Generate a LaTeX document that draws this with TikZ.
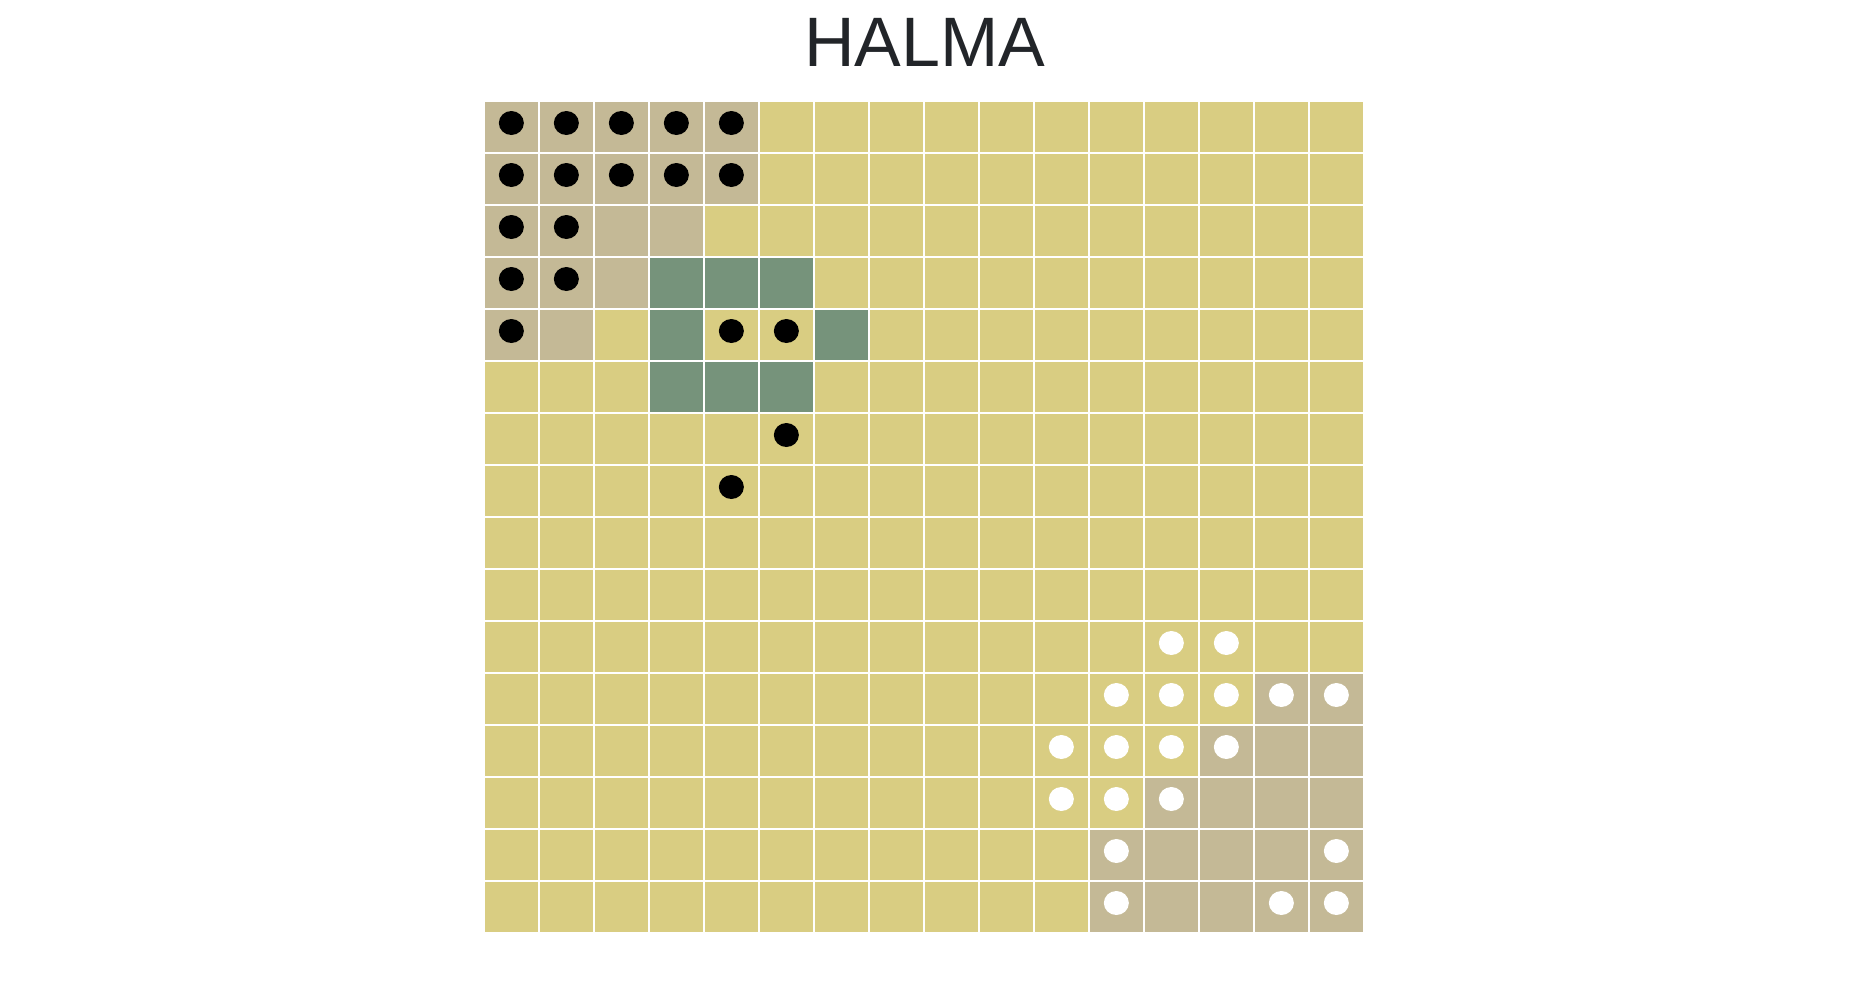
\documentclass[tikz,border=0pt]{standalone}
\usepackage{fontspec}
\setmainfont{Liberation Sans}
\usepackage{xcolor}
\usetikzlibrary{positioning}

\definecolor{boardyellow}{HTML}{D9CD82}
\definecolor{camptan}{HTML}{C4B996}
\definecolor{movegreen}{HTML}{76937B}
\definecolor{titlegray}{HTML}{222529}

\begin{document}
\begin{tikzpicture}[
      x=1pt, y=-1pt,
      title/.style={font=\fontsize{70}{84}\selectfont, text=titlegray, anchor=base, inner sep=0pt},
      square/.style={draw=none},
      blackpiece/.style={fill=black},
      whitepiece/.style={fill=white},
    ]
    \useasboundingbox (0,0) rectangle (1850,980);
    \node[title] (heading) at (925,66.7) {HALMA};

    % board
    \foreach \r in {0,...,15}
      \foreach \c in {0,...,15}
        \fill[square, boardyellow] (485+55*\c, 101.7+52*\r) rectangle ++(52.7,50);

    % camps
    \foreach \c/\r in {0/0,1/0,2/0,3/0,4/0, 0/1,1/1,2/1,3/1,4/1, 0/2,1/2,2/2,3/2,
                       0/3,1/3,2/3, 0/4,1/4,
                       11/15,12/15,13/15,14/15,15/15, 11/14,12/14,13/14,14/14,15/14,
                       12/13,13/13,14/13,15/13, 13/12,14/12,15/12, 14/11,15/11}
      \fill[square, camptan] (485+55*\c, 101.7+52*\r) rectangle ++(52.7,50);

    % possible moves
    \foreach \c/\r in {3/3,4/3,5/3, 3/4,6/4, 3/5,4/5,5/5}
      \fill[square, movegreen] (485+55*\c, 101.7+52*\r) rectangle ++(52.7,50);

    % pieces
    \foreach \c/\r in {0/0,1/0,2/0,3/0,4/0, 0/1,1/1,2/1,3/1,4/1, 0/2,1/2,
                       0/3,1/3, 0/4,4/4,5/4, 5/6, 4/7}
      \fill[blackpiece] (485+55*\c+26.35, 101.7+52*\r+21.3) ellipse [x radius=12.5, y radius=12];
    \foreach \c/\r in {12/10,13/10, 11/11,12/11,13/11,14/11,15/11,
                       10/12,11/12,12/12,13/12, 10/13,11/13,12/13,
                       11/14,15/14, 11/15,14/15,15/15}
      \fill[whitepiece] (485+55*\c+26.35, 101.7+52*\r+21.3) ellipse [x radius=12.5, y radius=12];
  \end{tikzpicture}
\end{document}
